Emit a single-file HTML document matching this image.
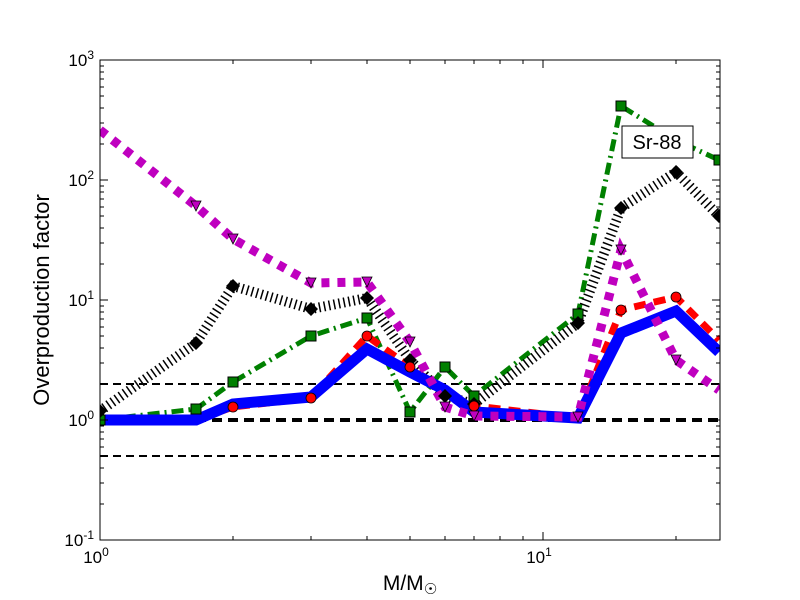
<!DOCTYPE html>
<html><head><style>body{margin:0;background:#fff}svg{display:block}</style></head><body>
<svg width="800" height="600" xmlns="http://www.w3.org/2000/svg" font-family="Liberation Sans, DejaVu Sans, sans-serif">
<defs><clipPath id="c"><rect x="100" y="60" width="620" height="480"/></clipPath></defs>
<rect width="800" height="600" fill="#fff"/>
<g clip-path="url(#c)">
<line x1="100" x2="720" y1="384" y2="384" stroke="#000" stroke-width="2" stroke-dasharray="8,5"/>
<line x1="100" x2="720" y1="420" y2="420" stroke="#000" stroke-width="4" stroke-dasharray="10,6"/>
<line x1="100" x2="720" y1="456" y2="456" stroke="#000" stroke-width="2" stroke-dasharray="8,5"/>
<polyline fill="none" stroke="#008000" stroke-width="5" stroke-dasharray="12,5,2,5" points="100,420 196,409 233,382 311,336 367,318 410,412 445,367 474,396 578,314 621,106 676,140 719,160"/>
<polyline fill="none" stroke="#000" stroke-width="10" stroke-dasharray="1.5,3.5" points="100,411 196,343 233,286 311,309 367,298 410,360 445,396 474,404 578,323 621,208 676,172 719,216"/>
<polyline fill="none" stroke="#f00" stroke-width="7" stroke-dasharray="12,8" points="100,420 196,420 233,407 311,398 367,336 410,367 445,392 474,406 578,418 621,310 676,297 719,340"/>
<polyline fill="none" stroke="#00f" stroke-width="11" stroke-linejoin="miter" points="100,420 196,420 233,404 311,397 367,349 410,372 445,390 474,412 578,418 621,333 676,311 719,352"/>
<polyline fill="none" stroke="#bf00bf" stroke-width="9" stroke-dasharray="8,8" points="100,130 196,206 233,239 311,283 367,282 410,342 445,407 474,416 578,417 621,250 676,360 719,390"/>
<g fill="#008000" stroke="#000" stroke-width="1">
<rect x="95" y="415" width="10" height="10"/><rect x="191" y="404" width="10" height="10"/><rect x="228" y="377" width="10" height="10"/><rect x="306" y="331" width="10" height="10"/><rect x="362" y="313" width="10" height="10"/><rect x="405" y="407" width="10" height="10"/><rect x="440" y="362" width="10" height="10"/><rect x="469" y="391" width="10" height="10"/><rect x="573" y="309" width="10" height="10"/><rect x="616" y="101" width="10" height="10"/><rect x="714" y="155" width="10" height="10"/></g>
<g fill="#000"><path d="M100,404l7,7l-7,7l-7,-7z M196,336l7,7l-7,7l-7,-7z M233,279l7,7l-7,7l-7,-7z M311,302l7,7l-7,7l-7,-7z M367,291l7,7l-7,7l-7,-7z M410,353l7,7l-7,7l-7,-7z M445,389l7,7l-7,7l-7,-7z M474,397l7,7l-7,7l-7,-7z M578,316l7,7l-7,7l-7,-7z M621,201l7,7l-7,7l-7,-7z M676,165l7,7l-7,7l-7,-7z M719,209l7,7l-7,7l-7,-7z"/></g>
<g fill="#f00" stroke="#000" stroke-width="0.8"><circle cx="233" cy="407" r="5"/><circle cx="311" cy="398" r="5"/><circle cx="367" cy="336" r="5"/><circle cx="410" cy="367" r="5"/><circle cx="474" cy="406" r="5"/><circle cx="621" cy="310" r="5"/><circle cx="676" cy="297" r="5"/></g>
<g fill="#bf00bf" stroke="#000" stroke-width="0.8"><path d="M191,201h10l-5,10z M228,234h10l-5,10z M306,278h10l-5,10z M362,277h10l-5,10z M405,337h10l-5,10z M440,402h10l-5,10z M469,411h10l-5,10z M573,412h10l-5,10z M616,245h10l-5,10z M671,355h10l-5,10z"/></g>
</g>
<rect x="622" y="126" width="71" height="32" fill="#fff" stroke="#000"/>
<text x="657" y="149" font-size="20" text-anchor="middle">Sr-88</text>
<rect x="100" y="60" width="620" height="480" fill="none" stroke="#000" stroke-width="1"/>
<g stroke="#000">
<line x1="100" x2="108" y1="60" y2="60"/><line x1="100" x2="108" y1="180" y2="180"/><line x1="100" x2="108" y1="300" y2="300"/><line x1="100" x2="108" y1="420" y2="420"/>
<line x1="712" x2="720" y1="180" y2="180"/><line x1="712" x2="720" y1="300" y2="300"/><line x1="712" x2="720" y1="420" y2="420"/>
<line x1="543" x2="543" y1="540" y2="532"/><line x1="543" x2="543" y1="60" y2="68"/>
</g>
<g stroke="#000" id="m">
<path d="M100,504h4M100,483h4M100,468h4M100,456h4M100,447h4M100,439h4M100,432h4M100,426h4 M100,384h4M100,363h4M100,348h4M100,336h4M100,327h4M100,319h4M100,312h4M100,306h4 M100,264h4M100,243h4M100,228h4M100,216h4M100,207h4M100,199h4M100,192h4M100,186h4 M100,144h4M100,123h4M100,108h4M100,96h4M100,87h4M100,79h4M100,72h4M100,66h4"/>
<path d="M720,504h-4M720,483h-4M720,468h-4M720,456h-4M720,447h-4M720,439h-4M720,432h-4M720,426h-4 M720,384h-4M720,363h-4M720,348h-4M720,336h-4M720,327h-4M720,319h-4M720,312h-4M720,306h-4 M720,264h-4M720,243h-4M720,228h-4M720,216h-4M720,207h-4M720,199h-4M720,192h-4M720,186h-4 M720,144h-4M720,123h-4M720,108h-4M720,96h-4M720,87h-4M720,79h-4M720,72h-4M720,66h-4"/>
<path d="M233,540v-4M311,540v-4M367,540v-4M410,540v-4M445,540v-4M474,540v-4M500,540v-4M523,540v-4M676,540v-4 M233,60v4M311,60v4M367,60v4M410,60v4M445,60v4M474,60v4M500,60v4M523,60v4M676,60v4"/>
</g>
<g font-size="17" text-anchor="end">
<text x="94" y="66">10<tspan font-size="12" dy="-7">3</tspan></text>
<text x="94" y="186">10<tspan font-size="12" dy="-7">2</tspan></text>
<text x="94" y="306">10<tspan font-size="12" dy="-7">1</tspan></text>
<text x="94" y="426">10<tspan font-size="12" dy="-7">0</tspan></text>
<text x="94" y="546">10<tspan font-size="12" dy="-7">-1</tspan></text>
</g>
<g font-size="17" text-anchor="middle">
<text x="96" y="563">10<tspan font-size="12" dy="-7">0</tspan></text>
<text x="539" y="563">10<tspan font-size="12" dy="-7">1</tspan></text>
</g>
<text x="410" y="590" font-size="21" text-anchor="middle">M/M<tspan font-size="15" dy="4">☉</tspan></text>
<text transform="translate(49,300) rotate(-90)" font-size="22" text-anchor="middle">Overproduction factor</text>
</svg>
</body></html>
